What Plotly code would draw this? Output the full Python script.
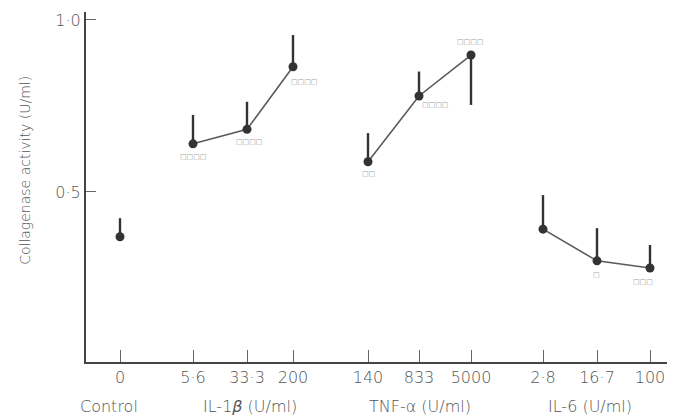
import plotly.graph_objects as go

# ---- data ----
tick_labels = ["0", "5·6", "33·3", "200", "140", "833", "5000", "2·8", "16·7", "100"]
x_positions = [120, 193, 247, 293, 368, 419, 471, 543, 597, 650]

control_x = [120]
control_y = [0.370]
control_err_up = [0.054]
control_err_down = [0.0]

il1_x = [193, 247, 293]
il1_y = [0.640, 0.682, 0.864]
il1_err_up = [0.084, 0.080, 0.092]
il1_err_down = [0.0, 0.0, 0.0]
il1_sig = ["□□□□", "□□□□", "□□□□"]

tnf_x = [368, 419, 471]
tnf_y = [0.588, 0.779, 0.898]
tnf_err_up = [0.083, 0.071, 0.0]
tnf_err_down = [0.0, 0.0, 0.145]
tnf_sig = ["□□", "□□□□", "□□□□"]

il6_x = [543, 597, 650]
il6_y = [0.392, 0.300, 0.279]
il6_err_up = [0.099, 0.095, 0.067]
il6_err_down = [0.0, 0.0, 0.0]
il6_sig = ["", "□", "□□□"]

group_labels = ["Control", "IL-1<i>β</i> (U/ml)", "TNF-α (U/ml)", "IL-6 (U/ml)"]
group_centers = [109, 250, 420, 590]

y_tickvals = [0.5, 1.0]
y_ticktext = ["0·5", "1·0"]

# ---- figure ----
ink = "#333333"
txt = "#555555"
font_family = "DejaVu Sans, sans-serif"

fig = go.Figure()

def add_series(xs, ys, up, down, line=True):
    fig.add_trace(go.Scatter(
        x=xs, y=ys,
        mode="lines+markers" if line else "markers",
        line=dict(color="#5a5a5a", width=1.6),
        marker=dict(color=ink, size=9),
        error_y=dict(type="data", symmetric=False, array=up, arrayminus=down,
                     color=ink, thickness=2.4, width=0),
        showlegend=False, hoverinfo="skip",
    ))

add_series(control_x, control_y, control_err_up, control_err_down, line=False)
add_series(il1_x, il1_y, il1_err_up, il1_err_down)
add_series(tnf_x, tnf_y, tnf_err_up, tnf_err_down)
add_series(il6_x, il6_y, il6_err_up, il6_err_down)

# significance marks (pixel offsets relative to each point)
sig_offsets = {
    "il1": [(0, -13), (2, -13), (11, -15)],
    "tnf": [(0, -12), (16, -9), (-1, 13)],
    "il6": [(0, -14), (-1, -14), (-7, -14)],
}
for key, xs, ys, sigs in [("il1", il1_x, il1_y, il1_sig),
                          ("tnf", tnf_x, tnf_y, tnf_sig),
                          ("il6", il6_x, il6_y, il6_sig)]:
    for (dx, dy), x, y, s in zip(sig_offsets[key], xs, ys, sigs):
        if s:
            fig.add_annotation(x=x, y=y, text=s, showarrow=False,
                               xshift=dx, yshift=dy,
                               font=dict(size=7, color="#9a9a9a", family="DejaVu Sans"))

# group labels under the axis
for lab, cx in zip(group_labels, group_centers):
    fig.add_annotation(x=cx, xref="x", y=-0.128, yref="paper", yanchor="middle",
                       text=lab, showarrow=False,
                       font=dict(size=16, color=txt, family=font_family, weight=300))

# y axis title
fig.add_annotation(x=-0.105, xref="paper", y=0.549, yref="paper",
                   text="Collagenase activity (U/ml)", textangle=-90,
                   showarrow=False, xanchor="center", yanchor="middle",
                   font=dict(size=14, color=txt, family=font_family, weight=300))

fig.update_xaxes(range=[86, 667], tickmode="array", tickvals=x_positions,
                 ticktext=tick_labels, ticks="inside", ticklen=12, tickwidth=1.2,
                 tickcolor="#666666", showline=True, linecolor="#444444", linewidth=2,
                 showgrid=False, zeroline=False,
                 tickfont=dict(size=16, color=txt, family=font_family, weight=300))
fig.update_yaxes(range=[0.006, 1.023], tickmode="array", tickvals=y_tickvals,
                 ticktext=y_ticktext, ticks="inside", ticklen=10, tickwidth=1.2,
                 tickcolor="#666666", showline=True, linecolor="#444444", linewidth=2,
                 showgrid=False, zeroline=False,
                 tickfont=dict(size=16, color=txt, family=font_family, weight=300))

# the page body carries an 8px default margin, so the figure is offset by 8px
fig.update_layout(width=671, height=410,
                  margin=dict(l=78, r=12, t=4, b=56),
                  paper_bgcolor="white", plot_bgcolor="white")

fig.write_html("out.html")
